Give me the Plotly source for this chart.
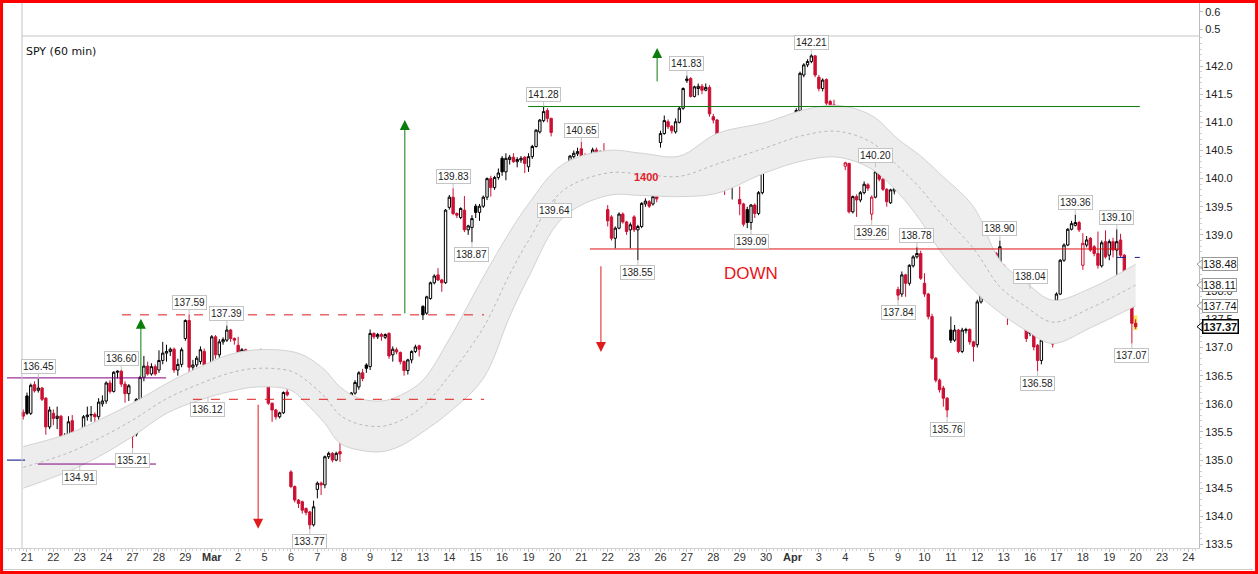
import plotly.graph_objects as go

# SPY hourly bars, 7 bars per trading day; bar 0 = first bar of Feb 21 2012, bar -1 = last bar of Feb 17
day_labels = ["21", "22", "23", "24", "27", "28", "29", "<b>Mar</b>", "2", "5", "6", "7", "8", "9",
              "12", "13", "14", "15", "16", "19", "20", "21", "22", "23", "26", "27", "28", "29", "30",
              "<b>Apr</b>", "3", "4", "5", "9", "10", "11", "12", "13", "16", "17", "18", "19", "20",
              "23", "24"]
bars_per_day = 7
first_bar = -1

opens = [
    135.85,
    136.14, 135.83, 136.34, 136.24, 136.28, 136.10, 135.59,
    135.83, 135.74, 135.78, 135.36, 135.40, 135.70, 135.45,
    135.37, 135.09, 135.77, 135.80, 135.81, 135.77, 136.00,
    136.05, 136.37, 136.22, 136.56, 136.58, 136.35, 136.18,
    135.42, 135.46, 136.08, 136.47, 136.67, 136.53, 136.66,
    136.60, 136.77, 136.90, 136.93, 136.97, 136.60, 136.70,
    137.16, 137.48, 136.65, 136.69, 136.75, 136.93, 136.69,
    136.72, 137.19, 136.87, 137.10, 137.13, 137.31, 137.16,
    137.04, 136.87, 136.96, 136.72, 136.71, 136.66, 136.79,
    136.51, 136.33, 136.01, 135.89, 135.77, 135.84, 136.21,
    134.79, 134.53, 134.29, 134.26, 134.14, 134.08, 133.85,
    134.48, 134.59, 134.56, 135.06, 135.12, 135.00, 135.15,
    135.92, 135.90, 135.98, 136.19, 136.30, 136.55, 136.69,
    136.66, 137.25, 137.19, 137.23, 137.18, 137.25, 136.87,
    136.96, 136.91, 136.75, 136.59, 136.78, 136.93, 137.03,
    137.73, 137.61, 137.87, 138.15, 138.29, 138.20, 138.15,
    139.49, 139.67, 139.38, 139.31, 139.44, 139.09, 139.13,
    139.51, 139.40, 139.51, 139.67, 140.00, 139.84, 140.02,
    140.36, 140.12, 140.34, 140.38, 140.30, 140.33, 140.38,
    140.21, 140.39, 140.57, 140.83, 141.03, 141.21, 141.07,
    140.05, 139.95, 140.12, 140.09, 140.21, 140.39, 140.44,
    140.53, 140.40, 140.02, 140.18, 140.51, 140.34, 140.45,
    139.45, 139.32, 138.94, 139.12, 139.37, 139.23, 139.09,
    139.32, 139.09, 139.15, 139.55, 139.59, 139.55, 139.68,
    140.64, 140.80, 141.01, 140.93, 140.83, 141.00, 141.25,
    141.74, 141.78, 141.46, 141.60, 141.64, 141.57, 141.62,
    141.10, 141.04, 140.70, 140.03, 140.12, 139.96, 140.15,
    139.63, 139.55, 139.45, 139.22, 139.53, 139.38, 139.75,
    140.91, 140.58, 140.30, 140.73, 140.75, 140.91, 140.83,
    140.63, 140.61, 141.21, 141.84, 142.02, 142.08, 142.18,
    141.80, 141.60, 141.76, 141.37, 141.31, 141.28, 140.72,
    140.22, 140.27, 139.41, 139.68, 139.62, 139.75, 139.89,
    139.37, 139.67, 140.12, 139.99, 139.81, 139.57, 139.78,
    138.03, 137.95, 138.29, 138.14, 138.45, 138.61, 138.67,
    138.14, 137.95, 137.55, 136.81, 136.42, 136.28, 136.10,
    137.31, 137.13, 137.31, 136.93, 137.30, 137.32, 137.10,
    137.05, 137.81, 138.23, 138.36, 138.50, 138.67, 138.52,
    138.46, 137.90, 137.58, 137.72, 137.77, 137.67, 137.78,
    137.84, 137.28, 137.04, 136.77, 137.13, 137.56, 137.31,
    137.84, 137.95, 138.55, 138.82, 139.10, 139.17, 139.22,
    138.46, 138.82, 138.94, 138.79, 138.67, 138.45, 138.88,
    138.64, 138.88, 138.73, 138.91, 138.64, 138.11, 137.75,
    137.43,
]
highs = [
    135.90,
    136.20, 136.36, 136.40, 136.45, 136.30, 136.12, 135.95,
    135.90, 135.95, 135.80, 135.48, 135.78, 135.80, 135.50,
    135.40, 135.80, 135.95, 135.96, 135.85, 136.10, 136.15,
    136.40, 136.42, 136.58, 136.59, 136.60, 136.40, 136.35,
    135.55, 136.10, 136.50, 136.85, 136.75, 136.72, 136.70,
    136.95, 137.10, 137.05, 137.00, 137.00, 136.80, 137.00,
    137.50, 137.59, 136.78, 136.85, 137.02, 136.98, 136.72,
    137.22, 137.22, 137.15, 137.18, 137.39, 137.33, 137.18,
    137.19, 136.99, 136.98, 136.74, 136.73, 136.82, 136.98,
    136.53, 136.35, 136.02, 135.91, 135.86, 136.22, 136.39,
    134.82, 134.55, 134.31, 134.28, 134.16, 134.10, 134.28,
    134.62, 134.62, 135.08, 135.15, 135.14, 135.15, 135.33,
    136.16, 136.00, 136.21, 136.42, 136.58, 136.62, 136.72,
    137.32, 137.27, 137.26, 137.26, 137.25, 137.27, 137.02,
    137.00, 136.93, 136.77, 136.80, 136.95, 137.05, 137.05,
    137.75, 137.92, 138.17, 138.30, 138.41, 138.22, 139.46,
    139.71, 139.83, 139.40, 139.49, 139.69, 139.18, 139.35,
    139.55, 139.55, 139.70, 140.02, 140.05, 140.05, 140.18,
    140.40, 140.45, 140.42, 140.45, 140.38, 140.40, 140.40,
    140.45, 140.60, 140.88, 141.06, 141.28, 141.25, 141.08,
    140.10, 140.15, 140.20, 140.24, 140.42, 140.50, 140.55,
    140.65, 140.45, 140.20, 140.55, 140.55, 140.50, 140.63,
    139.53, 139.35, 139.15, 139.40, 139.40, 139.25, 139.22,
    139.35, 139.18, 139.58, 139.65, 139.62, 139.81, 139.72,
    140.85, 141.12, 141.05, 140.95, 141.07, 141.28, 141.62,
    141.83, 141.80, 141.65, 141.69, 141.68, 141.69, 141.66,
    141.15, 141.06, 140.72, 140.08, 140.18, 140.18, 140.50,
    139.86, 139.57, 139.50, 139.55, 139.56, 139.78, 140.25,
    140.93, 140.60, 140.78, 140.82, 140.90, 140.98, 140.85,
    140.68, 141.25, 141.90, 142.05, 142.12, 142.21, 142.19,
    141.84, 141.78, 141.78, 141.40, 141.40, 141.30, 141.28,
    140.30, 140.28, 139.70, 139.72, 139.78, 139.95, 139.92,
    139.70, 140.20, 140.15, 140.01, 139.83, 139.82, 139.85,
    138.08, 138.35, 138.31, 138.48, 138.64, 138.78, 138.72,
    138.32, 137.97, 137.60, 136.83, 136.45, 136.32, 136.12,
    137.55, 137.40, 137.33, 137.35, 137.35, 137.34, 137.12,
    137.85, 138.26, 138.40, 138.55, 138.72, 138.70, 138.90,
    138.48, 137.92, 137.86, 137.85, 137.86, 137.75, 137.80,
    138.04, 137.30, 137.06, 137.16, 137.58, 137.58, 137.33,
    137.98, 138.57, 138.85, 139.12, 139.25, 139.36, 139.25,
    139.03, 138.98, 138.96, 138.82, 139.06, 138.90, 139.08,
    138.92, 138.95, 139.10, 139.02, 138.66, 138.15, 137.78,
    137.50,
]
lows = [
    135.72,
    135.80, 135.80, 136.20, 136.20, 136.05, 135.45, 135.55,
    135.62, 135.55, 135.25, 135.28, 135.36, 135.40, 135.35,
    134.91, 135.05, 135.70, 135.68, 135.62, 135.72, 135.95,
    136.00, 136.18, 136.20, 136.45, 136.30, 136.02, 136.05,
    135.21, 135.42, 136.05, 136.40, 136.50, 136.50, 136.50,
    136.55, 136.70, 136.75, 136.85, 136.55, 136.50, 136.65,
    137.12, 136.24, 136.27, 136.65, 136.70, 136.62, 136.12,
    136.50, 136.80, 136.82, 137.05, 137.10, 137.10, 137.05,
    136.80, 136.82, 136.65, 136.60, 136.42, 136.62, 136.68,
    136.30, 135.98, 135.68, 135.72, 135.74, 135.82, 136.13,
    134.50, 134.25, 134.15, 134.05, 134.02, 133.77, 133.82,
    134.32, 134.38, 134.50, 135.02, 134.96, 134.98, 134.97,
    135.86, 135.65, 135.95, 136.16, 136.25, 136.40, 136.55,
    136.60, 137.15, 137.15, 137.12, 137.15, 136.80, 136.75,
    136.88, 136.70, 136.50, 136.52, 136.72, 136.90, 136.84,
    137.49, 137.58, 137.85, 138.12, 138.18, 137.99, 138.13,
    139.45, 139.35, 139.30, 139.28, 139.05, 139.00, 138.87,
    139.30, 139.25, 139.48, 139.62, 139.68, 139.80, 139.98,
    140.05, 139.97, 140.25, 140.28, 140.20, 140.28, 140.10,
    140.12, 140.35, 140.55, 140.80, 141.00, 141.00, 140.75,
    139.64, 139.90, 140.02, 140.05, 140.18, 140.35, 140.40,
    140.30, 140.00, 139.92, 140.15, 140.30, 140.30, 140.15,
    139.15, 138.90, 138.76, 139.10, 139.20, 139.00, 138.76,
    139.05, 138.55, 139.12, 139.50, 139.48, 139.52, 139.58,
    140.55, 140.78, 140.88, 140.80, 140.80, 140.98, 141.22,
    141.70, 141.44, 141.44, 141.48, 141.50, 141.55, 141.10,
    140.98, 140.65, 139.95, 139.71, 139.80, 139.63, 140.12,
    139.35, 139.15, 139.12, 139.09, 139.30, 139.35, 139.72,
    140.55, 140.20, 140.28, 140.70, 140.72, 140.80, 140.60,
    140.36, 140.55, 141.18, 141.80, 141.98, 142.05, 141.80,
    141.55, 141.55, 141.30, 141.25, 141.10, 140.62, 140.45,
    140.15, 139.38, 139.38, 139.32, 139.58, 139.72, 139.78,
    139.26, 139.65, 139.95, 139.78, 139.50, 139.55, 139.72,
    137.84, 137.90, 137.90, 138.10, 138.42, 138.58, 138.20,
    137.90, 137.50, 136.78, 136.38, 136.20, 135.95, 135.76,
    137.08, 137.10, 136.90, 136.90, 137.25, 137.05, 136.75,
    137.00, 137.78, 138.20, 138.33, 138.47, 138.45, 138.48,
    137.85, 137.40, 137.55, 137.68, 137.62, 137.62, 137.10,
    137.20, 136.95, 136.58, 136.70, 137.10, 137.28, 137.00,
    137.70, 137.93, 138.52, 138.80, 139.08, 139.15, 139.05,
    138.38, 138.78, 138.70, 138.62, 138.40, 138.42, 138.58,
    138.55, 138.60, 137.96, 138.60, 137.85, 137.70, 137.07,
    137.33,
]
closes = [
    135.78,
    135.83, 136.33, 136.23, 136.28, 136.08, 135.59, 135.89,
    135.74, 135.78, 135.36, 135.40, 135.68, 135.45, 135.43,
    135.09, 135.77, 135.80, 135.81, 135.77, 136.03, 136.05,
    136.37, 136.22, 136.56, 136.58, 136.35, 136.18, 136.32,
    135.48, 136.08, 136.47, 136.67, 136.53, 136.66, 136.53,
    136.77, 136.90, 136.93, 136.97, 136.60, 136.70, 136.96,
    137.48, 136.65, 136.69, 136.81, 136.96, 136.69, 136.42,
    137.19, 136.87, 137.10, 137.14, 137.31, 137.16, 137.13,
    136.87, 136.96, 136.72, 136.69, 136.66, 136.79, 136.72,
    136.33, 136.01, 135.89, 135.77, 135.84, 136.20, 136.16,
    134.53, 134.29, 134.23, 134.11, 134.07, 133.85, 134.17,
    134.59, 134.56, 135.06, 135.12, 135.00, 135.12, 135.11,
    135.95, 135.98, 136.19, 136.38, 136.55, 136.45, 136.63,
    137.25, 137.19, 137.23, 137.20, 137.23, 136.85, 136.97,
    136.92, 136.75, 136.59, 136.78, 136.93, 137.01, 136.97,
    137.58, 137.90, 138.15, 138.27, 138.20, 138.15, 139.44,
    139.67, 139.38, 139.35, 139.47, 139.09, 139.16, 139.29,
    139.40, 139.51, 139.67, 140.00, 139.84, 140.02, 140.10,
    140.12, 140.36, 140.38, 140.30, 140.34, 140.36, 140.27,
    140.39, 140.57, 140.86, 141.04, 141.19, 141.07, 140.82,
    139.95, 140.12, 140.06, 140.21, 140.40, 140.45, 140.48,
    140.36, 140.02, 140.18, 140.51, 140.33, 140.48, 140.20,
    139.25, 138.94, 139.12, 139.37, 139.23, 139.06, 139.18,
    139.09, 139.15, 139.56, 139.60, 139.51, 139.68, 139.64,
    140.80, 141.03, 140.92, 140.85, 141.01, 141.25, 141.60,
    141.77, 141.46, 141.63, 141.64, 141.57, 141.62, 141.15,
    141.04, 140.70, 140.00, 139.98, 139.96, 140.15, 140.48,
    139.55, 139.19, 139.22, 139.53, 139.38, 139.75, 140.22,
    140.58, 140.30, 140.75, 140.77, 140.88, 140.83, 140.63,
    140.55, 141.21, 141.87, 142.02, 142.08, 142.18, 141.84,
    141.60, 141.75, 141.34, 141.31, 141.28, 140.72, 141.25,
    140.28, 139.41, 139.68, 139.62, 139.75, 139.90, 139.83,
    139.67, 140.12, 139.99, 139.81, 139.59, 139.80, 139.82,
    137.93, 138.29, 138.14, 138.46, 138.61, 138.67, 138.23,
    137.95, 137.55, 136.81, 136.42, 136.25, 136.10, 135.89,
    137.13, 137.31, 136.93, 137.31, 137.32, 137.10, 137.02,
    137.81, 138.23, 138.36, 138.50, 138.67, 138.52, 138.79,
    137.90, 137.58, 137.72, 137.78, 137.67, 137.70, 137.16,
    137.25, 137.01, 136.77, 137.13, 137.56, 137.31, 137.06,
    137.95, 138.55, 138.82, 139.10, 139.20, 139.22, 139.09,
    138.85, 138.91, 138.73, 138.67, 138.46, 138.86, 138.61,
    138.88, 138.73, 138.88, 138.64, 138.11, 137.75, 137.43,
    137.37,
]

# moving-average envelope (bar index, upper, middle, lower)
band_bar = [-1, 11, 19, 28, 37, 46, 54, 61, 70, 74, 79, 83, 88, 94, 99, 105, 112, 121, 128,
            133, 142, 154, 163, 173, 183, 196, 206, 215, 224, 231, 237, 242, 251, 258, 265,
            272, 282, 294]
band_upper = [135.24, 135.47, 135.71, 136.01, 136.36, 136.66, 136.88, 136.96, 136.93, 136.84,
              136.60, 136.30, 136.10, 136.05, 136.15, 136.42, 137.15, 138.25, 139.05, 139.55,
              140.25, 140.50, 140.45, 140.40, 140.80, 141.00, 141.22, 141.30, 141.12, 140.70,
              140.40, 140.09, 139.50, 138.55, 138.15, 137.84, 138.05, 138.48]
band_mid = [134.87, 135.13, 135.38, 135.71, 136.09, 136.36, 136.55, 136.63, 136.58, 136.42,
            136.12, 135.80, 135.64, 135.60, 135.70, 135.96, 136.50, 137.35, 138.30, 138.90,
            139.78, 140.10, 140.08, 140.04, 140.26, 140.55, 140.77, 140.84, 140.64, 140.22,
            139.82, 139.41, 138.76, 138.08, 137.72, 137.45, 137.70, 138.11]
band_lower = [134.50, 134.80, 135.06, 135.42, 135.83, 136.07, 136.22, 136.30, 136.24, 136.01,
              135.65, 135.30, 135.18, 135.15, 135.25, 135.50, 135.85, 136.45, 137.55, 138.25,
              139.30, 139.70, 139.70, 139.68, 139.74, 140.11, 140.32, 140.38, 140.17, 139.75,
              139.25, 138.73, 138.02, 137.62, 137.30, 137.07, 137.35, 137.74]

# swing high / low tags
swing_bar = [3, 14, 28, 25, 43, 53, 48, 75, 113, 118, 137, 147, 140, 162, 175, 208, 192,
             225, 224, 236, 231, 244, 258, 266, 268, 278, 289, 293]
swing_price = [136.45, 134.91, 135.21, 136.60, 137.59, 137.39, 136.12, 133.77, 139.83, 138.87,
               141.28, 140.65, 139.64, 138.55, 141.83, 142.21, 139.09, 140.20, 139.26, 138.78,
               137.84, 135.76, 138.90, 138.04, 136.58, 139.36, 139.10, 137.07]
swing_side = ["hi", "lo", "lo", "hi", "hi", "hi", "lo", "lo", "hi", "lo", "hi", "hi", "lo", "lo",
              "hi", "hi", "lo", "hi", "lo", "hi", "lo", "lo", "hi", "hi", "lo", "hi", "hi", "lo"]

# drawn support / resistance lines (price, from bar, to bar)
level_price = [136.46, 134.93, 135.00, 137.58, 136.08, 141.28, 138.75, 138.60]
level_from = [-5.3, 2.9, -5.3, 25.2, 44.0, 132.9, 149.3, 289.0]
level_to = [36.9, 34.2, -0.5, 121.2, 121.2, 295.1, 289.8, 295.1]

# projection arrows (bar, tail price, head price)
arrow_bar = [30.2, 100.2, 167.1, 61.3, 152.2]
arrow_tail = [136.47, 137.58, 141.70, 136.01, 138.47]
arrow_head = [137.51, 141.04, 142.32, 133.78, 136.92]

price_ticks = [133.5, 134.0, 134.5, 135.0, 135.5, 136.0, 136.5, 137.0, 137.5, 138.0, 138.5,
               139.0, 139.5, 140.0, 140.5, 141.0, 141.5, 142.0]
upper_pane_ticks = [0.5, 0.6]
axis_tags = [138.48, 138.11, 137.74, 137.37]

RED = "#cc1033"
bars = list(range(first_bar, first_bar + len(closes)))

fig = go.Figure()

# envelope
fig.add_trace(go.Scatter(x=band_bar, y=band_lower, mode="lines", hoverinfo="skip",
                         line=dict(color="#d2d2d2", width=1, shape="spline", smoothing=1.0)))
fig.add_trace(go.Scatter(x=band_bar, y=band_upper, mode="lines", hoverinfo="skip", fill="tonexty",
                         fillcolor="#ededed",
                         line=dict(color="#d2d2d2", width=1, shape="spline", smoothing=1.0)))
fig.add_trace(go.Scatter(x=band_bar, y=band_mid, mode="lines", hoverinfo="skip",
                         line=dict(color="#b8b8b8", width=1, dash="dot", shape="spline", smoothing=1.0)))

# empty upper indicator pane (needs a trace so its axis is drawn)
fig.add_trace(go.Scatter(x=[None], y=[None], yaxis="y2", mode="lines", hoverinfo="skip"))

# yellow marker behind the current bar
fig.add_shape(type="rect", x0=bars[-1] - 0.6, x1=bars[-1] + 0.45, y0=137.31, y1=137.57,
              fillcolor="#ffe25a", line=dict(width=0), layer="below")

# candles: black when the close is above the previous close, red otherwise;
# hollow when close > open, filled otherwise
groups = {"black": ([], [], [], [], []), "red": ([], [], [], [], [])}
for n, b in enumerate(bars):
    key = "black" if n > 0 and closes[n] >= closes[n - 1] else "red"
    g = groups[key]
    g[0].append(b)
    g[1].append(opens[n])
    g[2].append(highs[n])
    g[3].append(lows[n])
    g[4].append(closes[n])

for key, colour in (("black", "#000000"), ("red", RED)):
    x, o, h, lo, c = groups[key]
    fig.add_trace(go.Candlestick(
        x=x, open=o, high=h, low=lo, close=c, hoverinfo="skip", whiskerwidth=0,
        increasing=dict(line=dict(color=colour, width=1), fillcolor="#ffffff"),
        decreasing=dict(line=dict(color=colour, width=1), fillcolor=colour),
    ))

# drawn lines
level_style = [("#800080", "solid"), ("#800080", "solid"), ("#000080", "solid"),
               ("#e01b1b", "dash"), ("#e01b1b", "dash"), ("#0a7d0a", "solid"),
               ("#dd1111", "solid"), ("#1a1a8c", "dash")]
for p, a, b, (col, dash) in zip(level_price, level_from, level_to, level_style):
    fig.add_shape(type="line", x0=a, x1=b, y0=p, y1=p, line=dict(color=col, width=1, dash=dash))

for b, tail, head in zip(arrow_bar, arrow_tail, arrow_head):
    col = "#0a7d0a" if head > tail else "#e01b1b"
    fig.add_annotation(x=b, y=head, ax=b, ay=tail, axref="x", ayref="y", text="",
                       showarrow=True, arrowhead=2, arrowsize=2, arrowwidth=1,
                       arrowcolor=col, standoff=0)

for b, p, side in zip(swing_bar, swing_price, swing_side):
    fig.add_annotation(x=b, y=p, text=f"{p:.2f}", showarrow=True, arrowhead=0, arrowwidth=1,
                       arrowcolor="#c4c4c4", ax=0, ay=-12 if side == "hi" else 12, standoff=0,
                       bgcolor="#ffffff", bordercolor="#c4c4c4", borderwidth=1, borderpad=1,
                       font=dict(size=10, color="#222222"))

fig.add_annotation(x=164.1, y=140.03, text="<b>1400</b>", showarrow=False,
                   font=dict(size=11, color="#e0202a"))
fig.add_annotation(x=192.0, y=138.31, text="DOWN", showarrow=False,
                   font=dict(size=17, color="#e8141c"))

# price tags on the right axis
for p in axis_tags:
    last = p == axis_tags[-1]
    edge = "#000000" if last else "#9a9a9a"
    fig.add_shape(type="path", xref="paper", yref="y",
                  path=f"M 0.9983,{p} L 1.0027,{p + 0.075} L 1.0027,{p - 0.075} Z",
                  fillcolor="#ffffff", line=dict(color=edge, width=1))
    fig.add_annotation(xref="paper", yref="y", x=1.0025, y=p, xanchor="left",
                       text=f"<b>{p:.2f}</b>" if last else f"{p:.2f}", showarrow=False,
                       bgcolor="#ffffff", bordercolor=edge, borderwidth=1.5 if last else 1,
                       borderpad=0, font=dict(size=11, color="#111111"))

fig.add_annotation(xref="paper", yref="paper", x=0.0159, y=0.9266, xanchor="left",
                   text="SPY (60 min)", showarrow=False,
                   font=dict(family="DejaVu Sans", size=11, color="#111111"))

# panel frame, pane separator and outer border
fig.add_shape(type="line", xref="paper", yref="paper", x0=0.01424, x1=0.01424, y0=0, y1=1,
              line=dict(color="#c4c4c4", width=1))
fig.add_shape(type="line", xref="paper", yref="paper", x0=0.01424, x1=1, y0=0.93945, y1=0.93945,
              line=dict(color="#c4c4c4", width=1))
fig.add_shape(type="line", xref="paper", yref="paper", x0=-0.0017, x1=1.0452, y0=-0.0395,
              y1=-0.0395, line=dict(color="#cccccc", width=1))
fig.add_shape(type="rect", xref="paper", yref="paper", x0=-0.0029, x1=1.0482, y0=-0.0450,
              y1=1.0028, line=dict(color="#ff0000", width=3))

axis_common = dict(showgrid=False, zeroline=False, showline=True, linecolor="#bdbdbd",
                   ticks="outside", ticklen=3, tickcolor="#bdbdbd", fixedrange=True)

fig.update_layout(
    width=1258,
    height=574,
    margin=dict(l=5, r=59, t=3, b=26, autoexpand=False),
    paper_bgcolor="#ffffff",
    plot_bgcolor="#ffffff",
    showlegend=False,
    hovermode=False,
    boxgap=0.1,
    font=dict(family="Liberation Sans, Arial, sans-serif", size=11, color="#222222"),
    xaxis=dict(
        axis_common,
        range=[-5.83, 310.8],
        tickmode="array",
        tickvals=[k * bars_per_day for k in range(len(day_labels))],
        ticktext=day_labels,
        tickangle=0,
        linecolor="#cfcfcf",
        ticklabelstandoff=-4,
        minor=dict(tickmode="linear", tick0=0, dtick=1, ticks="outside", ticklen=2,
                   tickcolor="#d4d4d4"),
        rangeslider=dict(visible=False),
        tickfont=dict(size=11, color="#333333"),
    ),
    yaxis=dict(
        axis_common,
        domain=[0, 0.93945],
        range=[133.4387, 142.533],
        side="right",
        tickmode="array",
        tickvals=price_ticks,
        ticktext=[f"{t:.1f}" for t in price_ticks],
        minor=dict(tickmode="linear", tick0=133.5, dtick=0.1, ticks="outside", ticklen=2,
                   tickcolor="#cfcfcf"),
        tickfont=dict(size=11, color="#222222"),
    ),
    yaxis2=dict(
        axis_common,
        domain=[0.93945, 1],
        range=[0.4588, 0.6529],
        anchor="x",
        side="right",
        tickmode="array",
        tickvals=upper_pane_ticks,
        ticktext=[f"{t:.1f}" for t in upper_pane_ticks],
        tickfont=dict(size=11, color="#222222"),
    ),
)

# the page's default 8px body margin would push the chart off the window
fig.write_html("out.html", config={"displayModeBar": False},
               post_script="document.body.style.margin='0';document.body.style.overflow='hidden';")
